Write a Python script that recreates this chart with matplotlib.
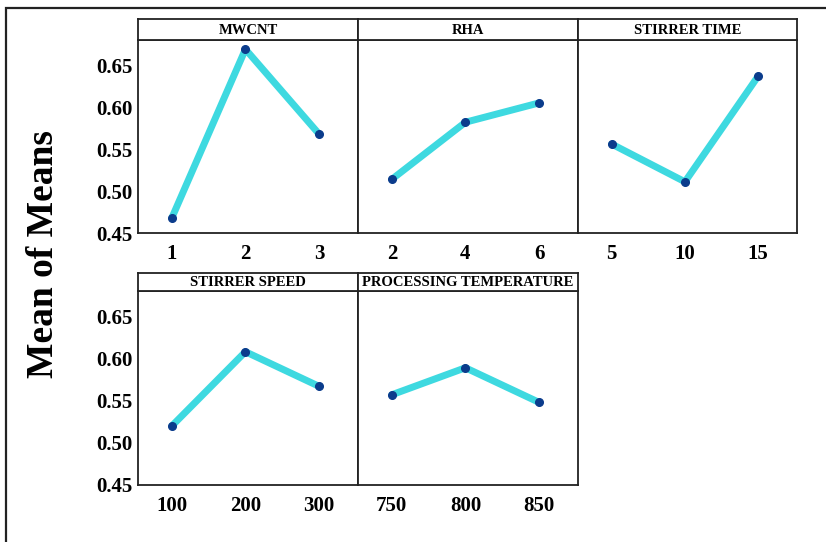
import numpy as np
import matplotlib
matplotlib.use("Agg")
import matplotlib.pyplot as plt
from matplotlib.patches import Rectangle

plt.rcParams["font.family"] = ["Liberation Serif", "DejaVu Serif"]
plt.rcParams["font.weight"] = "bold"

factors = ["MWCNT", "RHA", "STIRRER TIME", "STIRRER SPEED", "PROCESSING TEMPERATURE"]
levels = [["1", "2", "3"],
          ["2", "4", "6"],
          ["5", "10", "15"],
          ["100", "200", "300"],
          ["750", "800", "850"]]
mwcnt = [0.468, 0.669, 0.568]
rha = [0.514, 0.582, 0.605]
stirrer_time = [0.556, 0.511, 0.637]
stirrer_speed = [0.520, 0.608, 0.567]
proc_temp = [0.557, 0.589, 0.548]
means = [mwcnt, rha, stirrer_time, stirrer_speed, proc_temp]
yticks = [0.45, 0.50, 0.55, 0.60, 0.65]

W, H = 826, 542
fig = plt.figure(figsize=(W / 100, H / 100), dpi=100)

def px(x0, y0, x1, y1):
    # pixel box (top-left origin) -> figure fraction
    return [x0 / W, 1 - y1 / H, (x1 - x0) / W, (y1 - y0) / H]

# outer frame (runs off the right and bottom edges)
fig.patches.append(Rectangle((6 / W, -0.05), 1.2, 1 - 8 / H + 0.05,
                             transform=fig.transFigure, fill=False,
                             edgecolor="#222222", linewidth=1.6))

lefts = [138, 358, 578, 138, 358]
rights = [358, 578, 797, 358, 578]
heads = [(19, 40, 233), (19, 40, 233), (19, 40, 233),
         (273, 291, 485), (273, 291, 485)]

for i in range(5):
    x0, x1 = lefts[i], rights[i]
    htop, atop, abot = heads[i]
    ax = fig.add_axes(px(x0, atop, x1, abot))
    xs = np.arange(3)
    ax.plot(xs, means[i], color="#3ED9E0", linewidth=5, solid_capstyle="round", zorder=2)
    ax.plot(xs, means[i], "o", color="#0B3C8C", markersize=5.5, zorder=3)
    ax.set_xlim(-0.46, 2.53)
    ax.set_ylim(0.45, 0.68)
    ax.set_xticks(xs)
    ax.set_xticklabels(levels[i], fontsize=15, fontweight="bold")
    ax.tick_params(axis="x", length=0, pad=8)
    if i in (0, 3):
        ax.set_yticks(yticks)
        ax.set_yticklabels(["%.2f" % v for v in yticks], fontsize=15, fontweight="bold")
        ax.tick_params(axis="y", length=0, pad=4)
    else:
        ax.set_yticks([])
    for s in ax.spines.values():
        s.set_linewidth(1.3)
        s.set_color("#222222")

    hax = fig.add_axes(px(x0, htop, x1, atop))
    hax.set_xticks([])
    hax.set_yticks([])
    for s in hax.spines.values():
        s.set_linewidth(1.3)
        s.set_color("#222222")
    hax.text(0.5, 0.45, factors[i], ha="center", va="center", fontsize=10.5,
             fontweight="bold", transform=hax.transAxes)

fig.text(44 / W, 1 - 254 / H, "Mean of Means", rotation=90, ha="center", va="center",
         fontsize=27, fontweight="bold")

fig.savefig("out.png", dpi=100)
